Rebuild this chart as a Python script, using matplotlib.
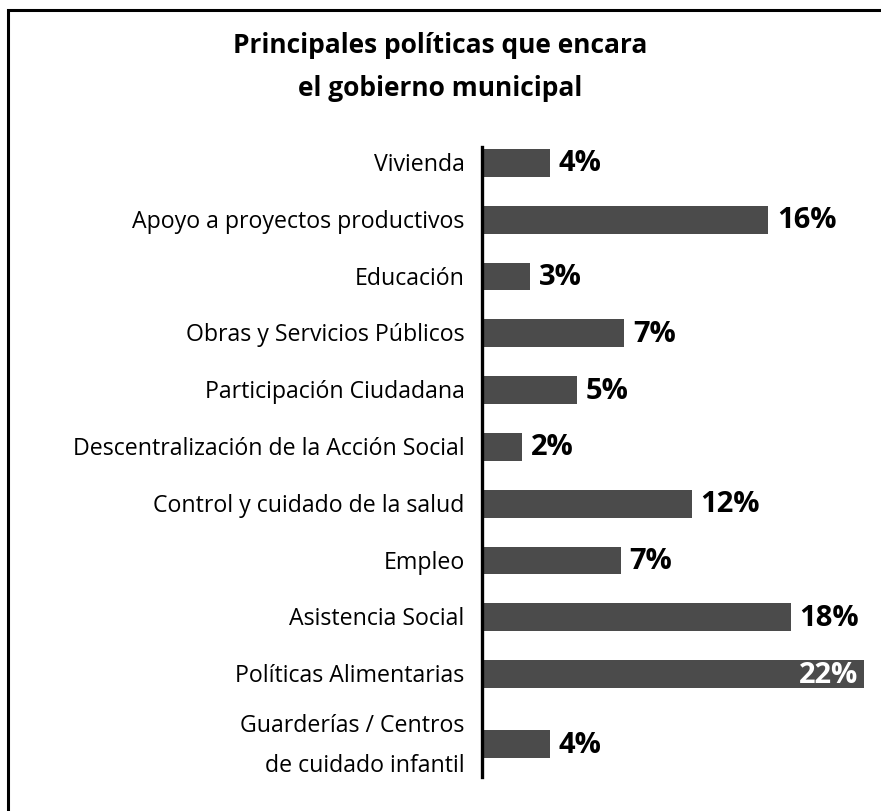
import matplotlib
matplotlib.use("Agg")
import matplotlib.pyplot as plt
from matplotlib.patches import Rectangle
import numpy as np

plt.rcParams['font.family'] = ['Open Sans', 'DejaVu Sans']

titulo = ["Principales políticas que encara", "el gobierno municipal"]
categorias = [
    "Vivienda",
    "Apoyo a proyectos productivos",
    "Educación",
    "Obras y Servicios Públicos",
    "Participación Ciudadana",
    "Descentralización de la Acción Social",
    "Control y cuidado de la salud",
    "Empleo",
    "Asistencia Social",
    "Políticas Alimentarias",
    "Guarderías / Centros\nde cuidado infantil",
]
# largo de las barras tal como se ve en el grafico
valores = [3.9, 16.5, 2.8, 8.2, 5.5, 2.3, 12.1, 8.0, 17.8, 22.0, 3.9]
# texto impreso al lado de cada barra
etiquetas = ["4%", "16%", "3%", "7%", "5%", "2%", "12%", "7%", "18%", "22%", "4%"]

color_barra = "#4b4b4b"

fig = plt.figure(figsize=(8.81, 8.12), dpi=100)
ax = fig.add_axes([0.547, 0.0419, 0.443, 0.7758])

pos = np.arange(len(categorias), dtype=float)
pos[-1] += 0.23  # la ultima etiqueta ocupa dos lineas

ax.barh(pos, valores, height=0.49, color=color_barra, zorder=2)
ax.set_xlim(0, 22.5)
ax.set_ylim(10.81, -0.28)

for s in ["top", "right", "bottom"]:
    ax.spines[s].set_visible(False)
ax.spines["left"].set_linewidth(2.4)
ax.spines["left"].set_color("black")
ax.set_xticks([])
ax.set_yticks([])

for p, cat in zip(pos, categorias):
    ax.text(-1.0, p + 0.02, cat, ha="right", va="center", ma="right",
            fontsize=16.7, linespacing=1.9, color="black")

for i, (p, v, t) in enumerate(zip(pos, valores, etiquetas)):
    if i == 9:
        ax.text(v - 0.3, p, t, ha="right", va="center", fontsize=21,
                fontweight="bold", color="white")
    else:
        ax.text(v + 0.5, p, t, ha="left", va="center", fontsize=21,
                fontweight="bold", color="black")

fig.text(0.5, 1 - 53 / 812, titulo[0], ha="center", va="baseline",
         fontsize=19, fontweight="bold")
fig.text(0.5, 1 - 96 / 812, titulo[1], ha="center", va="baseline",
         fontsize=19, fontweight="bold")

# marco (solo se ven los bordes izquierdo y superior)
fig.add_artist(Rectangle((8 / 881, -0.05), 1.2, 1 - 11 / 812 + 0.05,
                         transform=fig.transFigure, fill=False,
                         edgecolor="black", linewidth=2.2))

fig.savefig("out.png", dpi=100)
